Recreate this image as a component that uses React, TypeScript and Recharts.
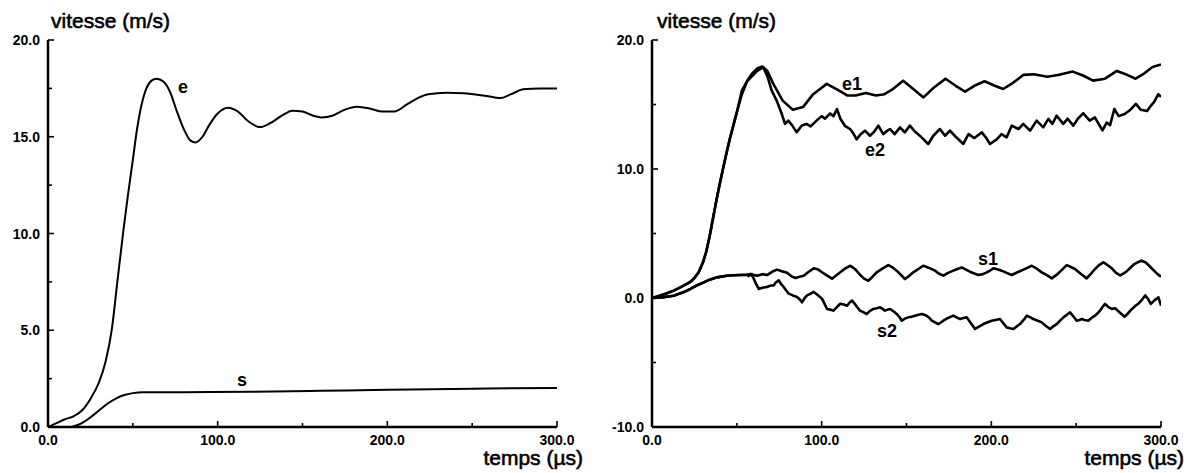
import React from "react";
import { LineChart, Line, XAxis, YAxis } from "recharts";

const FONT = '"Liberation Sans", Arial, Helvetica, sans-serif';

// ---------- axes ----------
const xTicks = [0, 50, 100, 150, 200, 250, 300];
const xMajor = [0, 100, 200, 300];
const leftYTicks = [0, 2.5, 5, 7.5, 10, 12.5, 15, 17.5, 20];
const leftYMajor = [0, 5, 10, 15, 20];
const rightYTicks = [-10, -5, 0, 5, 10, 15, 20];
const rightYMajor = [-10, 0, 10, 20];

// ---------- left panel (t in µs, v in m/s) ----------
const leftE: [number, number][] = [
  [0, 0], [5, 0.2], [10, 0.4], [15, 0.55], [20, 0.85], [25, 1.45], [30, 2.3], [34, 3.4],
  [37.7, 5.1], [41, 7.6], [44.5, 10.2], [47, 11.9], [50, 13.8], [52.5, 15.4], [55, 16.6],
  [58, 17.5], [61, 17.9], [64, 18.0], [68, 17.85], [72, 17.3], [76, 16.3], [80, 15.4],
  [84, 14.8], [87, 14.7], [91, 15.0], [95, 15.6], [100, 16.2], [106, 16.5], [112, 16.3],
  [118, 15.8], [125, 15.5], [131, 15.7], [138, 16.1], [144, 16.35], [150, 16.3], [156, 16.1],
  [161, 16.0], [168, 16.1], [175, 16.4], [182, 16.55], [190, 16.45], [197, 16.3], [204, 16.3],
  [212, 16.7], [218, 17.0], [224, 17.2], [235, 17.28], [245, 17.25], [255, 17.15], [262, 17.05],
  [267, 17.0], [273, 17.2], [280, 17.45], [290, 17.5], [300, 17.5],
];
const leftS: [number, number][] = [
  [14, 0], [20, 0.2], [25, 0.5], [30, 0.85], [35, 1.2], [40, 1.47], [45, 1.65], [50, 1.75],
  [56, 1.8], [80, 1.8], [120, 1.82], [160, 1.87], [200, 1.92], [250, 1.98], [300, 2.02],
];

// ---------- right panel ----------
const rightERise: [number, number][] = [
  [0, 0], [4, 0.15], [8, 0.33], [12.8, 0.57], [17, 0.85], [20, 1.05], [22.6, 1.25], [25, 1.55],
  [27.5, 2.0], [30, 2.75], [32, 3.6], [34, 4.8], [36, 6.2], [38, 7.6], [40, 8.9], [42, 10.1],
  [44, 11.3], [46, 12.4], [48, 13.4], [50, 14.4],
];
const rightE1: [number, number][] = [
  ...rightERise,
  [53, 15.8], [56, 16.8], [59, 17.4], [62, 17.8], [65, 17.95], [68, 17.6], [71.5, 16.6],
  [77, 15.3], [83, 14.6], [89, 14.8], [95, 15.8], [103, 16.6], [110, 16.1], [115, 15.7],
  [120, 15.7], [126, 15.9], [132, 15.7], [137, 15.8], [142, 16.2], [148, 16.85], [154, 16.2],
  [160, 15.55], [166, 16.3], [173, 17.0], [179, 16.45], [184.5, 16.0], [190, 16.45],
  [196, 16.8], [202, 16.45], [207, 16.2], [213, 16.7], [219, 17.3], [225, 17.35], [233, 17.15],
  [240, 17.3], [248, 17.55], [254, 17.25], [260, 16.85], [267, 17.0], [274, 17.6], [280, 17.3],
  [285, 17.0], [290, 17.4], [295, 17.9], [300, 18.1],
];
const rightE2: [number, number][] = [
  ...rightERise,
  [53, 16.1], [56, 16.8], [59, 17.2], [62, 17.6], [65.5, 17.9], [68, 17.2], [70.5, 16.1],
  [73.5, 15.3], [76.4, 14.3], [78.4, 13.5], [80.3, 13.75], [82.5, 13.4], [85.3, 12.85],
  [88.2, 13.35], [91, 13.5], [93.5, 13.3], [97, 13.75], [100, 14.1], [102, 13.9], [105, 14.3],
  [107, 14.1], [109, 14.65], [111, 13.9], [113.7, 13.35], [116.7, 13.1], [118.5, 12.8],
  [120.6, 12.3], [123, 12.7], [125.5, 12.97], [128.5, 12.58], [131, 12.9], [133.4, 13.36],
  [136.3, 12.7], [138, 12.9], [140.3, 13.1], [143, 12.7], [146.2, 13.23], [149, 12.84],
  [152, 13.36], [155, 12.9], [158.9, 12.45], [162.8, 11.94], [165.8, 12.58], [169.7, 13.1],
  [172.7, 12.58], [175.6, 12.97], [179, 12.5], [183.5, 11.94], [186.5, 12.7], [190, 12.4],
  [194.4, 12.84], [197, 12.4], [199.2, 11.94], [203.2, 12.3], [206, 12.7], [209, 12.45],
  [212, 13.36], [216, 13.1], [218.8, 13.5], [222.8, 12.97], [226.7, 13.75], [230.6, 13.23],
  [233.6, 13.88], [236, 13.5], [238.5, 14.13], [242.4, 13.5], [245, 13.9], [248.3, 13.36],
  [251, 13.9], [254.2, 14.32], [258, 13.75], [261, 14.0], [265.5, 13.0], [268, 13.6],
  [270, 13.4], [272.5, 14.65], [275, 14.1], [278.6, 14.26], [282, 14.6], [285.2, 15.05],
  [288, 14.6], [291.8, 14.5], [294, 14.9], [296, 15.2], [298.4, 15.8], [300, 15.6],
];
const rightSRise: [number, number][] = [
  [0, 0], [6, 0.05], [12.8, 0.18], [18, 0.42], [22.6, 0.7], [26, 0.95], [30.5, 1.21],
  [34, 1.42], [38.3, 1.6], [44, 1.73], [48, 1.76], [52, 1.78], [56, 1.8],
];
const rightS1: [number, number][] = [
  ...rightSRise,
  [58, 1.85], [61.9, 1.73], [65, 1.85], [67.8, 1.78], [71, 2.05], [73.7, 2.2], [76, 2.1],
  [79.6, 1.95], [82, 1.7], [84.5, 1.55], [87, 1.65], [89.4, 1.73], [92, 2.0], [95.3, 2.3],
  [98, 2.2], [100.2, 2.0], [103, 1.75], [106.1, 1.5], [108.5, 1.75], [111, 2.0], [114, 2.3],
  [116.9, 2.5], [120, 2.2], [122.6, 1.8], [125, 1.5], [127.5, 1.34], [130, 1.65], [132.4, 1.99],
  [136, 2.3], [139.3, 2.55], [142, 2.35], [144.2, 2.12], [147, 1.75], [149.1, 1.47],
  [151.5, 1.7], [154, 1.99], [157, 2.25], [159.9, 2.5], [163, 2.35], [166.8, 2.12], [169, 1.9],
  [171.7, 1.73], [174.5, 1.95], [177.6, 2.12], [180, 2.25], [182.5, 2.37], [185, 2.2],
  [187.4, 2.04], [190, 1.9], [192.4, 1.78], [195, 1.85], [197.3, 1.99], [199.5, 2.15],
  [201.2, 2.3], [204, 2.2], [206.1, 2.12], [209, 1.95], [212, 1.78], [215.5, 2.0], [218.9, 2.2],
  [221.5, 2.35], [223.8, 2.5], [227, 2.25], [229.7, 1.99], [233, 1.75], [235.6, 1.52],
  [238, 1.75], [240.5, 2.04], [242.5, 2.3], [244.4, 2.55], [247, 2.4], [249.3, 2.25],
  [252.5, 1.9], [256.2, 1.52], [258.5, 1.85], [261.1, 2.25], [263.5, 2.55], [266, 2.76],
  [268, 2.6], [271, 2.3], [273.5, 1.95], [276, 1.75], [278, 1.9], [280, 2.1], [282, 2.35],
  [284, 2.6], [286, 2.75], [288.5, 2.9], [291, 2.75], [293, 2.5], [296, 2.1], [298, 1.85],
  [300, 1.65],
];
const rightS2: [number, number][] = [
  ...rightSRise,
  [57, 1.7], [58.5, 1.85], [60, 1.5], [60.9, 1.21], [62.9, 0.7], [65, 0.8], [67.8, 0.85],
  [69.5, 0.95], [71.7, 0.98], [73, 1.2], [74.7, 1.37], [76, 1.1], [77.6, 0.85], [79, 0.6],
  [80.6, 0.34], [83, 0.2], [85.5, 0.08], [87, -0.1], [88.4, -0.33], [90, 0.0], [91.4, 0.2],
  [93, 0.3], [95.3, 0.47], [97.5, 0.25], [100.2, -0.05], [101.5, -0.4], [103.2, -0.85],
  [105, -0.9], [107, -0.98], [109, -0.7], [111, -0.45], [113, -0.5], [115, -0.6],
  [116.5, -0.35], [117.9, -0.2], [119.5, -0.45], [120.8, -0.7], [122.6, -0.98], [124.5, -1.1],
  [126.5, -1.24], [128.5, -1.0], [130.5, -0.85], [132.5, -0.8], [134.4, -0.72], [136, -0.85],
  [137.3, -0.98], [139, -0.9], [140.3, -0.85], [142.5, -1.05], [144.2, -1.24], [146, -1.5],
  [147.2, -1.76], [149, -1.6], [151.1, -1.5], [153, -1.45], [155, -1.37], [157, -1.3],
  [159, -1.24], [160.5, -1.3], [161.9, -1.37], [163.5, -1.55], [164.9, -1.76], [167, -1.9],
  [168.8, -2.02], [170.2, -1.9], [171.7, -1.76], [174.5, -1.55], [177.6, -1.37], [179.5, -1.5],
  [181.6, -1.63], [183.5, -1.55], [185.5, -1.5], [188, -1.95], [190.4, -2.4], [193, -2.2],
  [195.3, -2.02], [197.5, -1.9], [200.2, -1.76], [202.5, -1.7], [205.1, -1.63], [207, -1.95],
  [209.1, -2.28], [211, -2.35], [213, -2.4], [215, -2.2], [216.9, -2.02], [219, -1.7],
  [220.9, -1.37], [223, -1.5], [224.8, -1.63], [227, -1.75], [229.7, -1.89], [232, -2.15],
  [234.6, -2.4], [236.5, -2.2], [238.5, -2.02], [240.5, -1.75], [242.5, -1.5], [244.5, -1.3],
  [246.4, -1.11], [248.5, -1.45], [250.3, -1.76], [252, -1.7], [253.3, -1.63], [255, -1.7],
  [257.2, -1.76], [259, -1.55], [261.1, -1.37], [262.5, -1.2], [264.1, -0.98], [265.5, -0.7],
  [267, -0.46], [269, -0.7], [271, -0.85], [273, -0.8], [275.5, -1.1], [278.6, -1.45],
  [280.5, -1.2], [282.5, -0.9], [285, -0.6], [287, -0.4], [289, -0.1], [290.7, 0.2],
  [292.5, -0.1], [294, -0.45], [296, -0.2], [298.5, 0.05], [300, -0.6],
];

// ---------- labels ----------
const titleY = "vitesse (m/s)";
const titleX = "temps (µs)";

const rows = (pts: [number, number][]) => pts.map(([t, v]) => ({ t, v }));

const fmt = (v: number) => v.toFixed(1);

const tickText = {
  fontFamily: FONT,
  fontSize: 14,
  fontWeight: 700,
  fill: "#000",
};

const BottomTick = (major: number[]) => (props: any) => {
  const { x, y, payload } = props;
  const isMajor = major.includes(payload.value);
  return (
    <g>
      <line x1={x} y1={y} x2={x} y2={y - (isMajor ? 6 : 4)} stroke="#000" strokeWidth={1.6} />
      {isMajor && (
        <text x={x} y={y + 18} textAnchor="middle" {...tickText}>
          {fmt(payload.value)}
        </text>
      )}
    </g>
  );
};
const TopTick = (major: number[]) => (props: any) => {
  const { x, y, payload } = props;
  const isMajor = major.includes(payload.value);
  return <line x1={x} y1={y} x2={x} y2={y + (isMajor ? 6 : 4)} stroke="#000" strokeWidth={1.6} />;
};
const LeftTick = (major: number[]) => (props: any) => {
  const { x, y, payload } = props;
  const isMajor = major.includes(payload.value);
  return (
    <g>
      <line x1={x} y1={y} x2={x + (isMajor ? 6 : 4)} y2={y} stroke="#000" strokeWidth={1.6} />
      {isMajor && (
        <text x={x - 8} y={y + 5} textAnchor="end" {...tickText}>
          {fmt(payload.value)}
        </text>
      )}
    </g>
  );
};
const RightTick = (major: number[]) => (props: any) => {
  const { x, y, payload } = props;
  const isMajor = major.includes(payload.value);
  return <line x1={x} y1={y} x2={x - (isMajor ? 6 : 4)} y2={y} stroke="#000" strokeWidth={1.6} />;
};

type Series = { pts: [number, number][]; width: number; type: "monotone" | "linear" };

const Panel = (p: {
  width: number;
  height: number;
  left: number;
  yAxisWidth: number;
  marginRight: number;
  yDomain: [number, number];
  yTicks: number[];
  yMajor: number[];
  series: Series[];
  dashedRight?: boolean;
}) => (
  <div style={{ position: "absolute", left: p.left, top: 0 }}>
    <LineChart
      width={p.width}
      height={p.height}
      margin={{ top: 40, right: p.marginRight, bottom: 0, left: 0 }}
    >
      <XAxis
        xAxisId="b"
        type="number"
        dataKey="t"
        domain={[0, 300]}
        ticks={xTicks}
        interval={0}
        allowDataOverflow
        height={46}
        tickSize={0}
        tickMargin={0}
        axisLine={{ stroke: "#000", strokeWidth: 2.5 }}
        tick={BottomTick(xMajor)}
      />
      <XAxis
        xAxisId="t"
        orientation="top"
        type="number"
        dataKey="t"
        domain={[0, 300]}
        ticks={xTicks}
        interval={0}
        allowDataOverflow
        height={0}
        tickSize={0}
        tickMargin={0}
        axisLine={{ stroke: "#000", strokeWidth: 1.8 }}
        tick={TopTick(xMajor)}
      />
      <YAxis
        yAxisId="l"
        type="number"
        domain={p.yDomain}
        ticks={p.yTicks}
        interval={0}
        allowDataOverflow
        width={p.yAxisWidth}
        tickSize={0}
        tickMargin={0}
        axisLine={{ stroke: "#000", strokeWidth: 2.5 }}
        tick={LeftTick(p.yMajor)}
      />
      <YAxis
        yAxisId="r"
        orientation="right"
        type="number"
        domain={p.yDomain}
        ticks={p.yTicks}
        interval={0}
        allowDataOverflow
        width={0}
        tickSize={0}
        tickMargin={0}
        axisLine={
          p.dashedRight
            ? { stroke: "#000", strokeWidth: 1.5, strokeDasharray: "4 3" }
            : { stroke: "#000", strokeWidth: 2 }
        }
        tick={RightTick(p.yMajor)}
      />
      {p.series.map((s, i) => (
        <Line
          key={i}
          xAxisId="b"
          yAxisId="l"
          data={rows(s.pts)}
          dataKey="v"
          type={s.type}
          stroke="#000"
          strokeWidth={s.width}
          strokeLinejoin="round"
          dot={false}
          activeDot={false}
          isAnimationActive={false}
        />
      ))}
    </LineChart>
  </div>
);

const titleStyle = {
  fontFamily: FONT,
  fontSize: 21,
  fill: "#000",
  stroke: "#000",
  strokeWidth: 0.6,
};
const curveLabel = {
  fontFamily: FONT,
  fontSize: 18,
  fontWeight: 700,
  fill: "#000",
  textAnchor: "middle" as const,
};

export default function App() {
  return (
    <div
      style={{
        position: "absolute",
        left: 0,
        top: 0,
        width: 1189,
        height: 473,
        background: "#fff",
        overflow: "hidden",
      }}
    >
      <Panel
        width={600}
        height={473}
        left={0}
        yAxisWidth={48}
        marginRight={43}
        yDomain={[0, 20]}
        yTicks={leftYTicks}
        yMajor={leftYMajor}
        series={[
          { pts: leftE, width: 2, type: "monotone" },
          { pts: leftS, width: 2, type: "monotone" },
        ]}
      />
      <Panel
        width={589}
        height={473}
        left={600}
        yAxisWidth={52}
        marginRight={28}
        yDomain={[-10, 20]}
        yTicks={rightYTicks}
        yMajor={rightYMajor}
        dashedRight
        series={[
          { pts: rightE1, width: 2.6, type: "linear" },
          { pts: rightE2, width: 2.6, type: "linear" },
          { pts: rightS1, width: 2.6, type: "linear" },
          { pts: rightS2, width: 2.6, type: "linear" },
        ]}
      />
      <svg
        width={1189}
        height={473}
        style={{ position: "absolute", left: 0, top: 0, pointerEvents: "none" }}
      >
        <text x={51} y={28} {...titleStyle}>{titleY}</text>
        <text x={657} y={28} {...titleStyle}>{titleY}</text>
        <text x={583} y={465} textAnchor="end" {...titleStyle}>{titleX}</text>
        <text x={1184} y={465} textAnchor="end" {...titleStyle}>{titleX}</text>
        <text x={183} y={93} {...curveLabel}>e</text>
        <text x={242} y={386} {...curveLabel}>s</text>
        <text x={852} y={90} {...curveLabel}>e1</text>
        <text x={875} y={156} {...curveLabel}>e2</text>
        <text x={988} y={265} {...curveLabel}>s1</text>
        <text x={887} y={337} {...curveLabel}>s2</text>
      </svg>
    </div>
  );
}
